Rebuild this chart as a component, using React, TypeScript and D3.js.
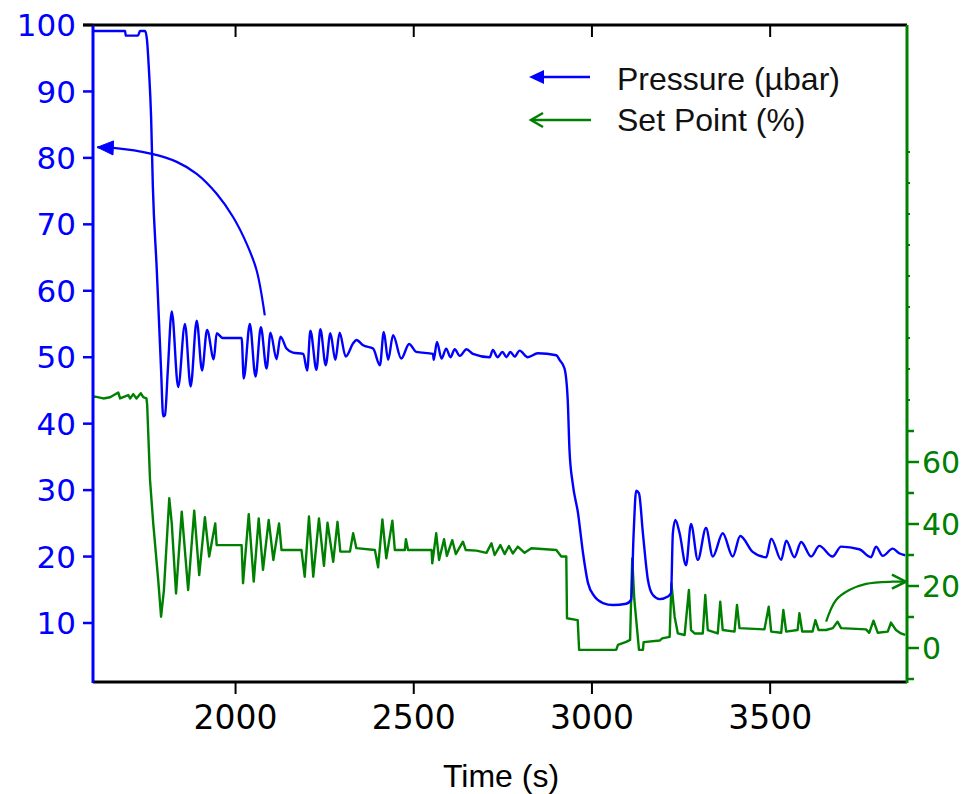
import React from 'react';
import * as d3 from 'd3';

// ---- tick values ----
const xTicks = [2000, 2500, 3000, 3500];
const leftTicks = [10, 20, 30, 40, 50, 60, 70, 80, 90, 100];
const rightMajor = [0, 20, 40, 60];
const rightMinor = [-10, 10, 30, 50, 70];
const rightStub = [80, 90, 100, 110, 120, 130, 140, 150, 160];

// ---- Pressure (µbar) : [time s, value] ----
const pressureSeries: [number, number][] = [
  [1600, 99.1], [1690, 99.1], [1692, 98.4], [1726, 98.4], [1732, 99.1], [1746, 99.1], [1751, 98.0],
  [1757, 93.2], [1763, 86.2], [1768, 75.6], [1779, 63.1], [1785, 55.6], [1791, 48.1], [1797, 41.1],
  [1802, 41.3], [1810, 48.1], [1821, 56.9], [1839, 45.5], [1858, 55.0], [1874, 45.6], [1891, 55.5],
  [1906, 48.0], [1920, 54.1], [1939, 49.7], [1947, 53.6], [1964, 52.9], [2017, 52.9], [2023, 46.8],
  [2040, 55.0], [2056, 47.1], [2071, 54.5], [2087, 48.3], [2098, 53.7], [2115, 49.7], [2126, 53.1],
  [2143, 51.3], [2161, 50.7], [2190, 50.5], [2201, 48.0], [2210, 54.0], [2227, 48.1], [2238, 54.2],
  [2253, 48.8], [2266, 53.6], [2280, 49.6], [2292, 53.7], [2309, 50.1], [2330, 52.1], [2339, 52.6],
  [2358, 51.8], [2386, 51.3], [2405, 48.8], [2416, 53.8], [2428, 49.6], [2442, 53.3], [2465, 49.8],
  [2487, 52.0], [2507, 50.8], [2554, 50.5], [2556, 49.6], [2565, 52.3], [2578, 49.8], [2591, 51.3],
  [2603, 50.0], [2615, 51.2], [2629, 50.2], [2648, 51.2], [2666, 50.5], [2713, 50.0], [2722, 51.1],
  [2735, 50.0], [2749, 50.8], [2760, 50.0], [2771, 50.8], [2783, 50.1], [2797, 51.0], [2820, 50.0],
  [2848, 50.6], [2900, 50.3], [2909, 49.6], [2923, 48.3], [2932, 43.6], [2937, 36.0], [2946, 31.0],
  [2961, 26.5], [2975, 20.5], [2989, 16.0], [3007, 14.0], [3031, 13.0], [3059, 12.7], [3096, 12.9],
  [3110, 13.5], [3117, 23.5], [3124, 29.9], [3132, 29.5], [3143, 23.5], [3157, 16.5], [3171, 14.2],
  [3190, 13.6], [3213, 14.0], [3222, 14.5], [3227, 23.5], [3234, 25.5], [3246, 23.5], [3264, 18.7],
  [3278, 24.9], [3297, 19.5], [3320, 24.3], [3339, 20.0], [3367, 23.5], [3395, 20.0], [3416, 23.1],
  [3451, 20.7], [3489, 19.9], [3503, 22.7], [3531, 19.5], [3545, 22.4], [3568, 19.9], [3587, 22.2],
  [3615, 20.0], [3638, 21.6], [3675, 20.0], [3699, 21.5], [3750, 21.1], [3783, 19.9], [3797, 21.5],
  [3816, 20.1], [3844, 21.2], [3862, 20.5], [3879, 20.2],
];

// ---- Set Point (%) : [time s, value] ----
const setPointSeries: [number, number][] = [
  [1600, 81.0], [1606, 81.1], [1629, 80.5], [1648, 80.9], [1671, 82.4], [1676, 80.5], [1699, 81.6],
  [1704, 80.5], [1713, 81.9], [1722, 80.5], [1734, 82.2], [1741, 80.9], [1750, 80.5], [1752, 78.4],
  [1760, 54.2], [1769, 40.2], [1783, 21.9], [1791, 10.1], [1799, 18.7], [1814, 48.3], [1821, 40.2],
  [1833, 17.6], [1849, 44.0], [1867, 18.7], [1884, 44.3], [1898, 23.5], [1914, 42.2], [1926, 29.5],
  [1943, 40.2], [1947, 33.2], [2017, 33.2], [2021, 20.9], [2037, 43.2], [2051, 21.4], [2065, 41.8],
  [2077, 25.2], [2093, 41.3], [2106, 28.4], [2122, 40.2], [2129, 31.6], [2185, 31.6], [2194, 23.0],
  [2206, 42.4], [2218, 23.0], [2234, 41.8], [2248, 26.5], [2258, 40.4], [2274, 27.8], [2286, 40.7],
  [2294, 31.1], [2321, 31.1], [2330, 37.0], [2339, 32.2], [2391, 31.6], [2400, 26.0], [2412, 41.5],
  [2423, 28.9], [2440, 41.1], [2447, 31.6], [2475, 31.6], [2478, 35.1], [2484, 31.6], [2550, 31.6],
  [2552, 27.3], [2563, 37.0], [2571, 28.4], [2585, 35.1], [2593, 29.7], [2608, 34.8], [2618, 30.3],
  [2638, 34.3], [2646, 31.6], [2676, 31.4], [2704, 30.7], [2718, 33.8], [2727, 30.0], [2743, 33.2],
  [2755, 30.3], [2767, 32.9], [2778, 30.5], [2792, 32.7], [2811, 30.7], [2830, 32.2], [2900, 31.6],
  [2914, 29.5], [2928, 29.5], [2930, 9.6], [2960, 9.0], [2964, -0.6], [3068, -0.6], [3073, 1.0],
  [3096, 2.0], [3107, 2.6], [3113, 28.9], [3119, 15.5], [3132, -0.6], [3143, -0.6], [3145, 1.9],
  [3190, 2.4], [3197, 3.1], [3218, 3.6], [3223, 20.9], [3232, 10.1], [3241, 4.7], [3260, 4.2],
  [3272, 18.7], [3278, 5.8], [3288, 4.7], [3311, 4.7], [3318, 17.1], [3325, 5.8], [3353, 4.7],
  [3360, 14.9], [3367, 5.8], [3400, 5.3], [3407, 13.9], [3414, 6.4], [3484, 6.0], [3496, 13.3],
  [3503, 5.3], [3531, 4.9], [3537, 12.3], [3545, 5.3], [3577, 5.8], [3582, 11.2], [3590, 5.3],
  [3619, 5.3], [3627, 9.0], [3636, 5.8], [3657, 5.8], [3676, 6.4], [3689, 8.5], [3699, 6.4],
  [3769, 6.0], [3778, 4.9], [3790, 8.8], [3802, 4.9], [3830, 5.3], [3839, 8.2], [3853, 5.8],
  [3867, 4.7], [3879, 4.2],
];

// ---- annotation arrows (data coordinates) ----
const pressureArrow: [number, number][] = [
  [2082, 56.3], [2059, 63.1], [2031, 67.1], [1993, 71.1], [1947, 74.6], [1891, 77.6],
  [1835, 79.4], [1765, 80.6], [1657, 81.5], [1612, 81.6],
];
const setPointArrow: [number, number][] = [
  [3657, 8.5], [3685, 15.5], [3722, 18.7], [3769, 20.7], [3844, 21.4], [3881, 21.4],
];

const BLUE = '#0000ff';
const GREEN = '#008000';
const W = 967;
const H = 794;
const L = 93, R = 907, T = 25, B = 682;

export default function App() {
  const x = d3.scaleLinear().domain([1600, 3884]).range([L, R]);
  const yL = d3.scaleLinear().domain([10, 100]).range([623, T]);
  const yR = d3.scaleLinear().domain([0, 100]).range([648, 338]);

  const lineP = d3.line<[number, number]>().x(d => x(d[0])).y(d => yL(d[1])).curve(d3.curveMonotoneX);
  const lineS = d3.line<[number, number]>().x(d => x(d[0])).y(d => yR(d[1]));
  const curveP = d3.line<[number, number]>().x(d => x(d[0])).y(d => yL(d[1])).curve(d3.curveCatmullRom);
  const curveS = d3.line<[number, number]>().x(d => x(d[0])).y(d => yR(d[1])).curve(d3.curveCatmullRom);

  // arrowheads
  const pa = pressureArrow;
  const tipP = [x(pa[pa.length - 1][0]), yL(pa[pa.length - 1][1])];
  const prevP = [x(pa[pa.length - 2][0]), yL(pa[pa.length - 2][1])];
  const angP = Math.atan2(tipP[1] - prevP[1], tipP[0] - prevP[0]);
  const hl = 16, hw = 7;
  const bx = tipP[0] - hl * Math.cos(angP), by = tipP[1] - hl * Math.sin(angP);
  const headP = `M${tipP[0]},${tipP[1]} L${bx - hw * Math.sin(angP)},${by + hw * Math.cos(angP)} L${bx + hw * Math.sin(angP)},${by - hw * Math.cos(angP)} Z`;

  const sa = setPointArrow;
  const tipS = [x(sa[sa.length - 1][0]), yR(sa[sa.length - 1][1])];
  const prevS = [x(sa[sa.length - 2][0]), yR(sa[sa.length - 2][1])];
  const angS = Math.atan2(tipS[1] - prevS[1], tipS[0] - prevS[0]);
  const sl = 14, sw = 7;
  const sbx = tipS[0] - sl * Math.cos(angS), sby = tipS[1] - sl * Math.sin(angS);
  const headS = `M${sbx - sw * Math.sin(angS)},${sby + sw * Math.cos(angS)} L${tipS[0]},${tipS[1]} L${sbx + sw * Math.sin(angS)},${sby - sw * Math.cos(angS)}`;

  const numFont = "'DejaVu Sans', Verdana, sans-serif";
  const txtFont = "'Liberation Sans', Arial, sans-serif";

  return (
    <svg width={W} height={H} style={{ position: 'absolute', left: 0, top: 0, background: '#fff' }}>
      <rect x={0} y={0} width={W} height={H} fill="#fff" />
      <defs>
        <clipPath id="plot">
          <rect x={L} y={T} width={R - L} height={B - T} />
        </clipPath>
      </defs>

      <g clipPath="url(#plot)" fill="none" strokeLinejoin="round">
        <path d={lineS(setPointSeries) || ''} stroke={GREEN} strokeWidth={2.4} />
        <path d={lineP(pressureSeries) || ''} stroke={BLUE} strokeWidth={2.4} />
      </g>

      {/* annotation arrows */}
      <path d={curveP(pressureArrow) || ''} fill="none" stroke={BLUE} strokeWidth={2.2} />
      <path d={headP} fill={BLUE} stroke={BLUE} strokeWidth={1} />
      <path d={curveS(setPointArrow) || ''} fill="none" stroke={GREEN} strokeWidth={2.2} />
      <path d={headS} fill="none" stroke={GREEN} strokeWidth={2.5} />

      {/* frame */}
      <line x1={L - 10} x2={R} y1={T} y2={T} stroke="#000" strokeWidth={3} />
      <line x1={L} x2={R} y1={B} y2={B} stroke="#000" strokeWidth={3} />

      {/* x ticks */}
      {xTicks.map(t => (
        <g key={t}>
          <line x1={x(t)} x2={x(t)} y1={B} y2={B + 12} stroke="#000" strokeWidth={2} />
          <line x1={x(t)} x2={x(t)} y1={T} y2={T + 12} stroke="#000" strokeWidth={2} />
          <text x={x(t)} y={729} textAnchor="middle" fontFamily={numFont} fontSize={33} fill="#000">{t}</text>
        </g>
      ))}
      <text x={501} y={787} textAnchor="middle" fontFamily={txtFont} fontSize={32} fill="#000">Time (s)</text>

      {/* left axis */}
      <line x1={L} x2={L} y1={T} y2={B + 1} stroke={BLUE} strokeWidth={3} />
      {leftTicks.map(v => (
        <g key={v}>
          <line x1={L - 10} x2={L} y1={yL(v)} y2={yL(v)} stroke={v === 100 ? '#000' : BLUE} strokeWidth={2.5} />
          <text x={76} y={yL(v)} dy="0.36em" textAnchor="end" fontFamily={numFont} fontSize={31} fill={BLUE}>{v}</text>
        </g>
      ))}

      {/* right axis */}
      <line x1={R} x2={R} y1={T} y2={B + 1} stroke={GREEN} strokeWidth={3} />
      {rightMajor.map(v => (
        <g key={v}>
          <line x1={R} x2={R + 12} y1={yR(v)} y2={yR(v)} stroke={GREEN} strokeWidth={2.5} />
          <text x={922} y={yR(v)} dy="0.36em" textAnchor="start" fontFamily={numFont} fontSize={30} fill={GREEN}>{v}</text>
        </g>
      ))}
      {rightMinor.map(v => (
        <line key={v} x1={R} x2={R + 7} y1={yR(v)} y2={yR(v)} stroke={GREEN} strokeWidth={2.5} />
      ))}
      {rightStub.map(v => (
        <line key={v} x1={R} x2={R + 3} y1={yR(v)} y2={yR(v)} stroke={GREEN} strokeWidth={2} />
      ))}

      {/* legend */}
      <line x1={536} x2={590} y1={77} y2={77} stroke={BLUE} strokeWidth={2.5} />
      <path d="M529,77 L544,70 L544,84 Z" fill={BLUE} />
      <text x={617} y={90} fontFamily={txtFont} fontSize={32} fill="#111">Pressure (µbar)</text>
      <line x1={531} x2={591} y1={120} y2={120} stroke={GREEN} strokeWidth={2.5} />
      <path d="M543,113 L531,120 L543,127" fill="none" stroke={GREEN} strokeWidth={2.5} />
      <text x={617} y={131} fontFamily={txtFont} fontSize={32} fill="#111">Set Point (%)</text>
    </svg>
  );
}
